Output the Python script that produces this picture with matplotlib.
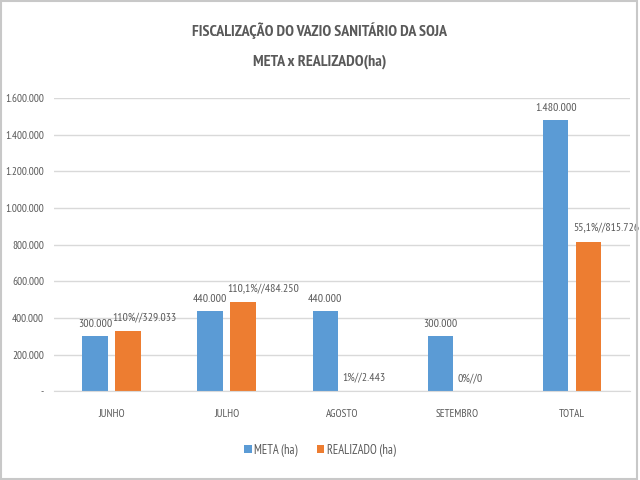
import numpy as np
import matplotlib.pyplot as plt
from matplotlib.patches import Rectangle
from matplotlib.ticker import FuncFormatter

plt.rcParams['font.family'] = ['PT Sans Narrow', 'DejaVu Sans']

categorias = ['JUNHO', 'JULHO', 'AGOSTO', 'SETEMBRO', 'TOTAL']
meta = [300000, 440000, 440000, 300000, 1480000]
realizado = [329033, 484250, 2443, 0, 815726]
rotulos_meta = ['300.000', '440.000', '440.000', '300.000', '1.480.000']
rotulos_real = ['110%//329.033', '110,1%//484.250', '1%//2.443', '0%//0', '55,1%//815.726']

azul = '#5B9BD5'
laranja = '#ED7D31'
cinza = '#595959'

fig = plt.figure(figsize=(6.4, 4.8), dpi=100)
ax = fig.add_axes([0.084, 0.185, 0.9, 0.611])

x = np.arange(len(categorias))
w = 0.22
b1 = ax.bar(x - 0.143, meta, w, color=azul, label='META (ha)')
b2 = ax.bar(x + 0.143, realizado, w, color=laranja, label='REALIZADO (ha)')

for r, t in zip(b1, rotulos_meta):
    ax.annotate(t, (r.get_x() + r.get_width() / 2, r.get_height()),
                xytext=(0, 5), textcoords='offset points',
                ha='center', va='bottom', fontsize=8.5, color=cinza)
for r, t in zip(b2, rotulos_real):
    ax.annotate(t, (r.get_x(), r.get_height()),
                xytext=(-2, 6), textcoords='offset points',
                ha='left', va='bottom', fontsize=8.5, color=cinza)

ax.set_xlim(-0.5, len(categorias) - 0.5)
ax.set_ylim(0, 1600000)
ax.set_yticks(np.arange(0, 1600001, 200000))


def fmt(v, pos):
    if v == 0:
        return '-'
    return '{:,.0f}'.format(v).replace(',', '.')


ax.yaxis.set_major_formatter(FuncFormatter(fmt))
ax.set_xticks(x)
ax.set_xticklabels(categorias)
ax.tick_params(axis='both', length=0, labelsize=8, colors=cinza)
ax.tick_params(axis='x', pad=13)
ax.tick_params(axis='y', pad=7)

ax.grid(axis='y', color='#d9d9d9', linewidth=1)
ax.set_axisbelow(True)
for s in ['top', 'right', 'left']:
    ax.spines[s].set_visible(False)
ax.spines['bottom'].set_color('#d9d9d9')

fig.text(0.5, 0.936, 'FISCALIZAÇÃO DO VAZIO SANITÁRIO DA SOJA', ha='center', va='center',
         fontsize=11.5, color=cinza, fontweight='bold')
fig.text(0.5, 0.871, 'META x REALIZADO(ha)', ha='center', va='center',
         fontsize=11.5, color=cinza, fontweight='bold')

fig.legend(loc='center', bbox_to_anchor=(0.5, 0.062), ncol=2, frameon=False,
           fontsize=9, labelcolor=cinza, handlelength=0.6, handleheight=0.6,
           handletextpad=0.2, columnspacing=1.5)

fig.patches.append(Rectangle((0.002, 0.003), 0.994, 0.994, transform=fig.transFigure,
                             fill=False, edgecolor='#c8c8c8', linewidth=1.5))

fig.savefig('out.png', dpi=100)
